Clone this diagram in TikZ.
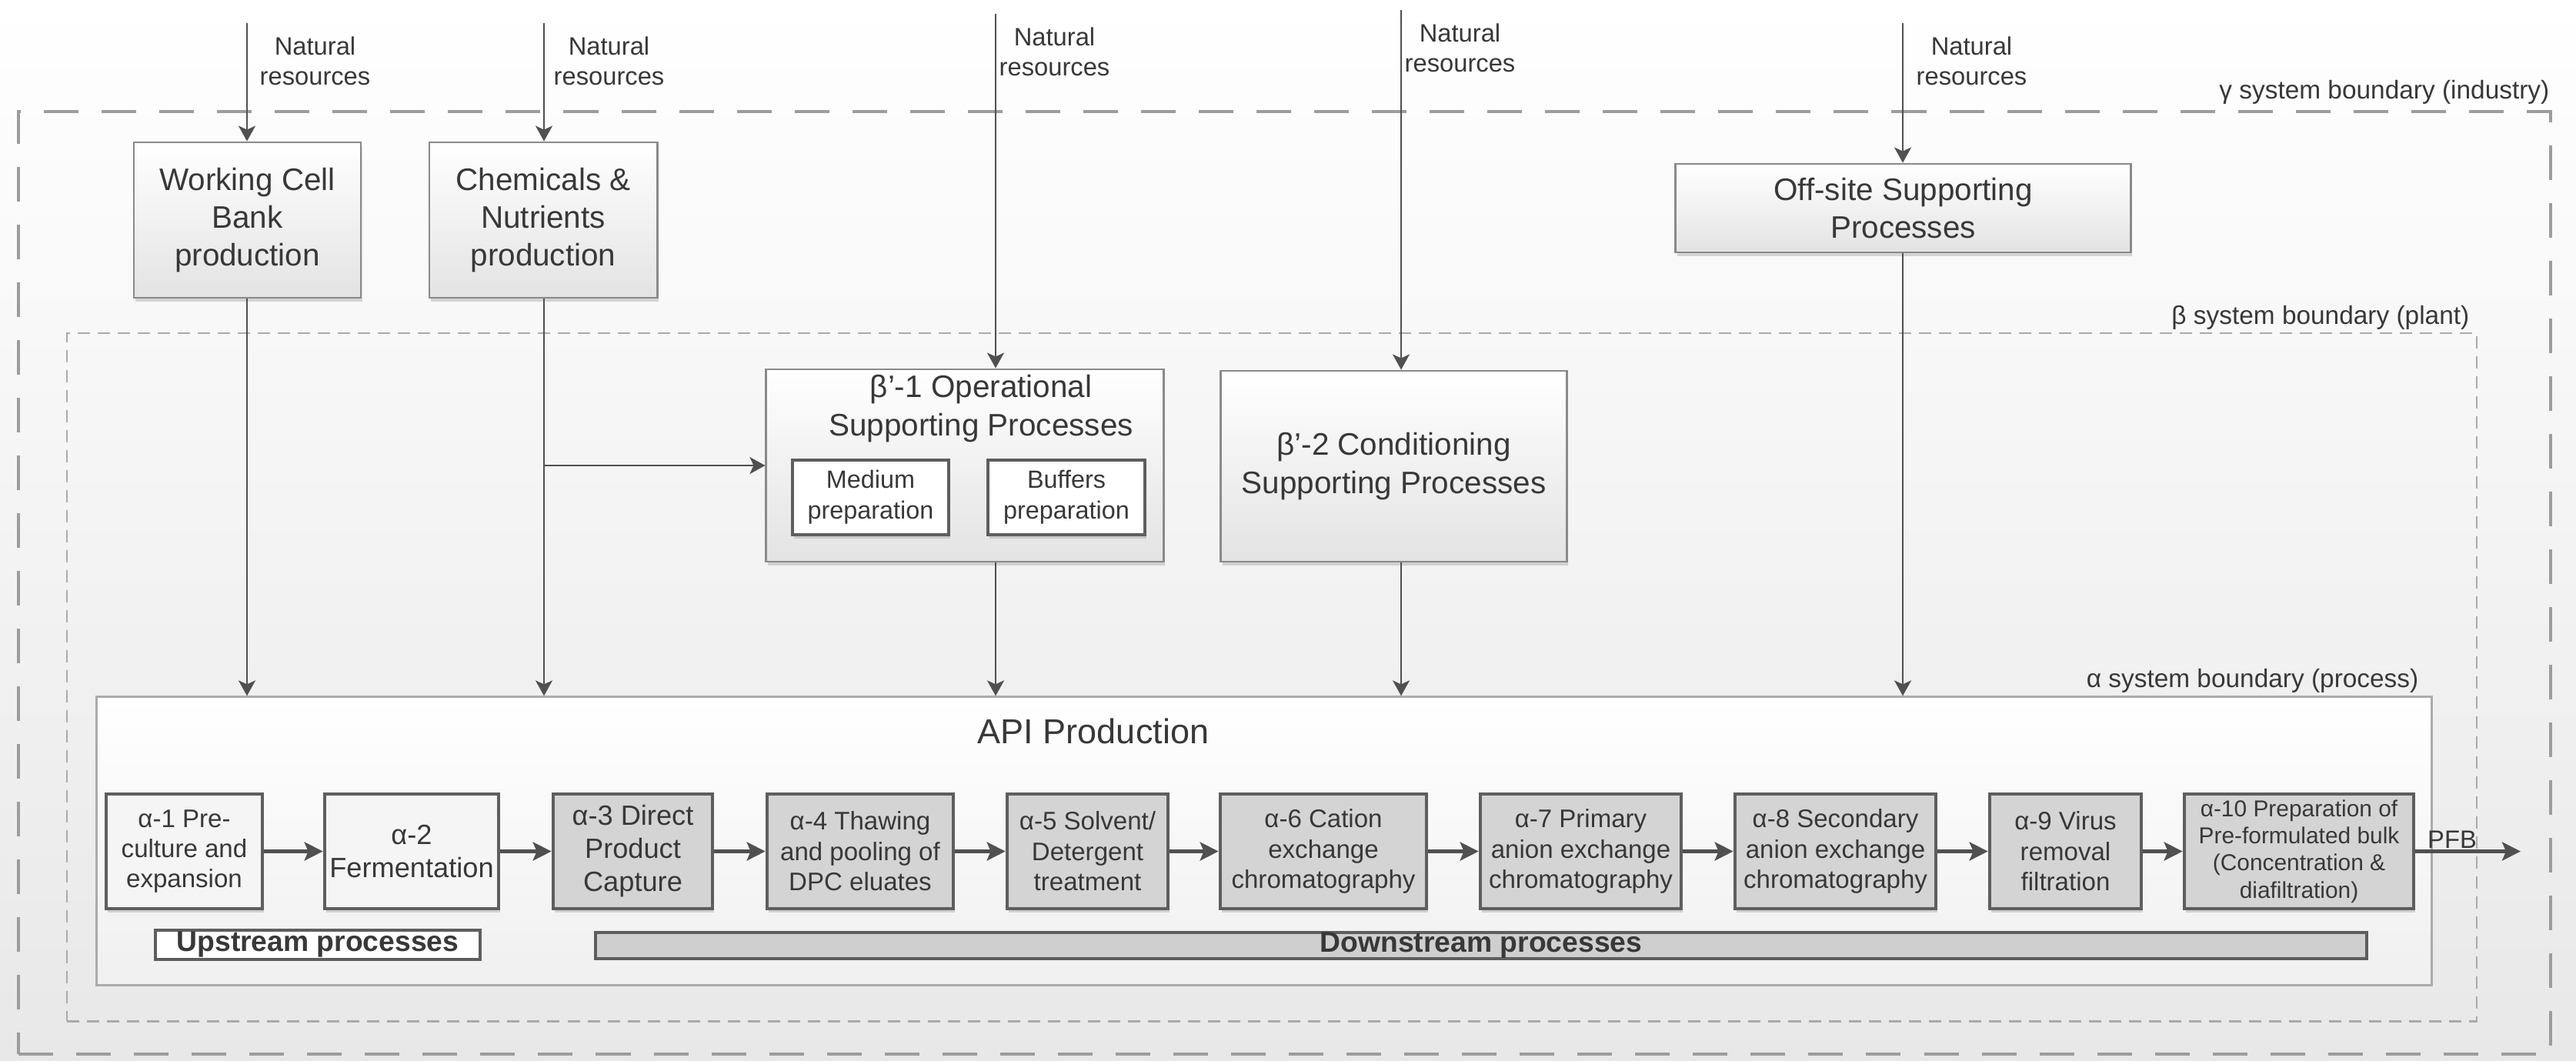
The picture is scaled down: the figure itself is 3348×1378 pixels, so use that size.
\documentclass[tikz,border=0pt]{standalone}
\usepackage{fontspec}
\setmainfont{Liberation Sans}
\usetikzlibrary{arrows.meta,shadows}
\definecolor{linec}{HTML}{505050}
\definecolor{txt}{HTML}{383838}
\definecolor{boxline}{HTML}{8A8A8A}
\definecolor{darkline}{HTML}{5E5E5E}
\definecolor{grayfill}{HTML}{D4D4D4}
\definecolor{gdash}{HTML}{9C9C9C}
\definecolor{bdash}{HTML}{AAAAAA}
\definecolor{apiline}{HTML}{ABABAB}
\begin{document}
\begin{tikzpicture}[x=0.01cm,y=-0.01cm,
  shad/.style={drop shadow={shadow xshift=0.02cm, shadow yshift=-0.05cm, opacity=0.3}},
  bigbox/.style={draw=boxline, line width=0.8pt, top color=white, bottom color=black!11, align=center, text=txt, font=\fontsize{11.5}{14}\selectfont, inner sep=0pt, shad},
  subbox/.style={draw=darkline, line width=1.1pt, fill=white, align=center, text=txt, font=\fontsize{9.2}{11.4}\selectfont, inner sep=0pt, shad},
  abox/.style={draw=darkline, line width=1.3pt, fill=grayfill, align=center, text=txt, font=\fontsize{9.4}{11.2}\selectfont, inner sep=0pt, minimum height=1.49cm, shad},
  aboxw/.style={abox, fill=black!4},
  natlab/.style={anchor=west, align=center, text=txt, font=\fontsize{9.3}{11}\selectfont, inner sep=0pt},
  blab/.style={anchor=east, text=txt, font=\fontsize{9.5}{11}\selectfont, inner sep=0pt},
  arr/.style={draw=linec, line width=0.7pt, -{Stealth[length=0.2cm,width=0.22cm,inset=0.05cm]}},
  harr/.style={draw=linec, line width=1.2pt, -{Stealth[length=0.24cm,width=0.24cm,inset=0.05cm]}},
  procbar/.style={draw=darkline, line width=1.1pt, inner sep=0pt, text=txt, font=\fontsize{10.6}{12}\selectfont\bfseries}
]
\useasboundingbox (0,0) rectangle (3348,1378);
\shade[top color=white, bottom color=black!9] (0,0) rectangle (3348,1378);

% boundaries
\node[draw=gdash, line width=1.1pt, dash pattern=on 0.45cm off 0.3cm, minimum width=32.89cm, minimum height=12.25cm, inner sep=0pt] (gamma) at (1669.5,757.5) {};
\node[draw=bdash, line width=0.7pt, dash pattern=on 0.16cm off 0.1cm, minimum width=31.30cm, minimum height=8.94cm, inner sep=0pt] (beta) at (1653,880) {};
\node[draw=apiline, line width=0.85pt, top color=white, bottom color=black!6, minimum width=30.34cm, minimum height=3.74cm, inner sep=0pt] (api) at (1643,1093) {};

\node[blab] (glab) at (3314,120) {γ system boundary (industry)};
\node[blab] (blabn) at (3210,413) {β system boundary (plant)};
\node[blab] (alab) at (3144,885) {α system boundary (process)};
\node[text=txt, font=\fontsize{12.8}{15}\selectfont, inner sep=0pt] (apit) at (1421,950) {API Production};

% top boxes
\node[bigbox, minimum width=2.95cm, minimum height=2.02cm] (wcb) at (321.5,286) {Working Cell\\Bank\\production};
\node[bigbox, minimum width=2.96cm, minimum height=2.02cm] (chem) at (706,286) {Chemicals \&\\Nutrients\\production};
\node[bigbox, minimum width=5.91cm, minimum height=1.15cm] (off) at (2473.5,270.5) {Off-site Supporting\\Processes};
\node[bigbox, minimum width=5.16cm, minimum height=2.50cm] (b1) at (1254,605) {};
\node[align=center, text=txt, font=\fontsize{11.5}{14}\selectfont, inner sep=0pt] (b1t) at (1275,531) {β’-1 Operational\\Supporting Processes};
\node[subbox, minimum width=2.03cm, minimum height=0.97cm] (med) at (1131.5,646.5) {Medium\\preparation};
\node[subbox, minimum width=2.04cm, minimum height=0.97cm] (buf) at (1386,646.5) {Buffers\\preparation};
\node[bigbox, minimum width=4.49cm, minimum height=2.48cm] (b2) at (1811.5,606) {β’-2 Conditioning\\Supporting Processes};

% natural resources
\coordinate (n1) at (321,30);
\coordinate (n2) at (707,30);
\coordinate (n3) at (1294,18);
\coordinate (n4) at (1821,13);
\coordinate (n5) at (2473,30);
\node[natlab] (nl1) at (337,79) {Natural\\resources};
\node[natlab] (nl2) at (719,79) {Natural\\resources};
\node[natlab] (nl3) at (1298,67) {Natural\\resources};
\node[natlab] (nl4) at (1825,62) {Natural\\resources};
\node[natlab] (nl5) at (2490,79) {Natural\\resources};

% alpha boxes
\node[aboxw, minimum width=2.03cm] (a1) at (239.5,1106.5) {α-1 Pre-\\culture and\\expansion};
\node[aboxw, minimum width=2.26cm, font=\fontsize{10.3}{12.2}\selectfont] (a2) at (535,1106.5) {α-2\\Fermentation};
\node[abox, minimum width=2.07cm, font=\fontsize{10.3}{12.2}\selectfont] (a3) at (822.5,1106.5) {α-3 Direct\\Product\\Capture};
\node[abox, minimum width=2.42cm] (a4) at (1118,1106.5) {α-4 Thawing\\and pooling of\\DPC eluates};
\node[abox, minimum width=2.09cm] (a5) at (1413.5,1106.5) {α-5 Solvent/\\Detergent\\treatment};
\node[abox, minimum width=2.68cm] (a6) at (1720,1106.5) {α-6 Cation\\exchange\\chromatography};
\node[abox, minimum width=2.61cm] (a7) at (2054.5,1106.5) {α-7 Primary\\anion exchange\\chromatography};
\node[abox, minimum width=2.61cm] (a8) at (2385.5,1106.5) {α-8 Secondary\\anion exchange\\chromatography};
\node[abox, minimum width=1.97cm] (a9) at (2684.5,1106.5) {α-9 Virus\\removal\\filtration};
\node[abox, minimum width=2.98cm, font=\fontsize{8.5}{10}\selectfont] (a10) at (2988,1106.5) {α-10 Preparation of\\Pre-formulated bulk\\(Concentration \&\\diafiltration)};

\node[procbar, fill=white, minimum width=4.22cm, minimum height=0.38cm] (up) at (413,1228) {Upstream processes};
\node[procbar, fill=black!19, minimum width=23.00cm, minimum height=0.32cm] (down) at (1925,1229) {Downstream processes};

% arrows
\draw[arr] (n1) -- (n1 |- wcb.north);
\draw[arr] (n2) -- (n2 |- chem.north);
\draw[arr] (n3) -- (n3 |- b1.north);
\draw[arr] (n4) -- (n4 |- b2.north);
\draw[arr] (n5) -- (n5 |- off.north);
\draw[arr] (n1 |- wcb.south) -- (n1 |- api.north);
\draw[arr] (n2 |- chem.south) -- (n2 |- api.north);
\draw[arr] (n2 |- b1.west) -- (b1.west);
\draw[arr] (n3 |- b1.south) -- (n3 |- api.north);
\draw[arr] (n4 |- b2.south) -- (n4 |- api.north);
\draw[arr] (n5 |- off.south) -- (n5 |- api.north);

\draw[harr] (a1) -- (a2);
\draw[harr] (a2) -- (a3);
\draw[harr] (a3) -- (a4);
\draw[harr] (a4) -- (a5);
\draw[harr] (a5) -- (a6);
\draw[harr] (a6) -- (a7);
\draw[harr] (a7) -- (a8);
\draw[harr] (a8) -- (a9);
\draw[harr] (a9) -- (a10);
\coordinate (pfbend) at (3276,1106.5);
\draw[harr] (a10.east) -- (pfbend);
\node[anchor=south, inner sep=0pt, text=txt, font=\fontsize{9.3}{11}\selectfont] (pfb) at (3187,1103) {PFB};
\end{tikzpicture}
\end{document}
